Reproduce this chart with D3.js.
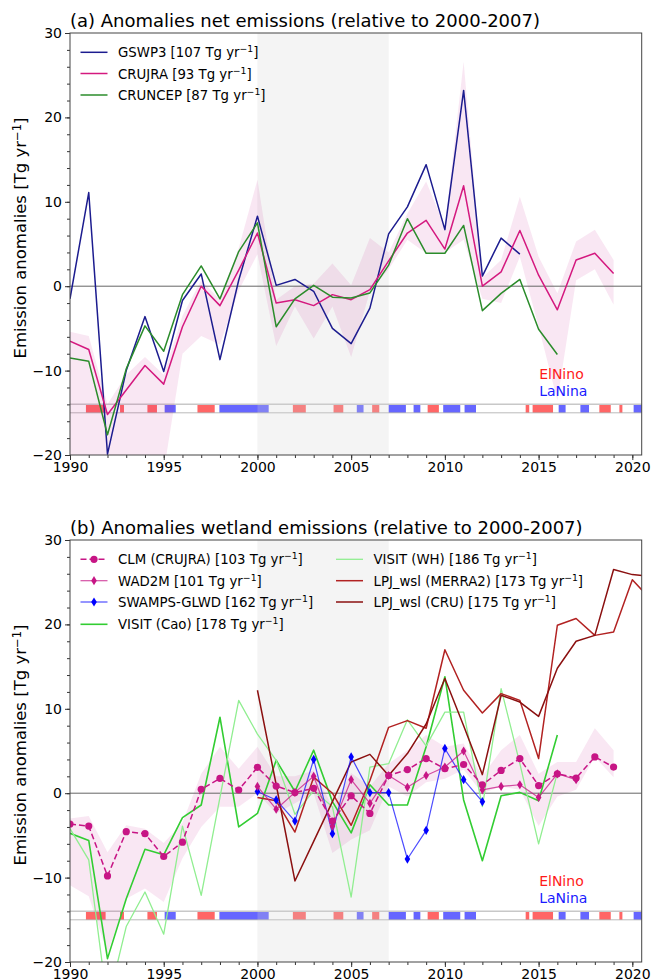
<!DOCTYPE html>
<html>
<head>
<meta charset="utf-8">
<script src="https://cdn.jsdelivr.net/npm/d3@7"></script>
<style>
  body { margin: 0; background: #fff; }
  text { font-family: "DejaVu Sans", sans-serif; fill: #000; }
</style>
</head>
<body>
<svg id="fig" width="652" height="980"></svg>
<script>
// ---- panel (a): net emission anomalies [Tg/yr], first year 1990 ----
const gswp3 = [-1.5, 11.1, -19.9, -10.0, -3.6, -10.1, -1.7, 1.45, -8.7, 0.7, 8.3, 0.1, 0.8, -0.6, -5.0, -6.8, -2.6, 6.2, 9.4, 14.4, 6.7, 23.2, 1.2, 5.7, 3.8];
const crujra = [-6.5, -7.5, -15.2, -12.3, -9.4, -11.6, -4.8, 0.0, -2.3, 1.9, 6.3, -2.0, -1.6, -2.3, -1.0, -1.6, -0.4, 3.0, 6.3, 7.8, 4.4, 11.9, 0.0, 1.7, 6.6, 1.3, -2.8, 3.1, 3.9, 1.5];
const cruncep = [-8.5, -8.9, -17.6, -9.8, -4.7, -7.7, -1.0, 2.4, -1.5, 4.1, 7.5, -4.8, -1.5, 0.1, -1.3, -1.4, -0.8, 2.5, 8.0, 3.9, 3.9, 7.2, -2.9, -0.85, 0.8, -5.1, -8.1];
// spread band, 1990-2019
const netHi = [-5.4, -5.9, -14.0, -10.5, -8.4, -10.5, -3.5, 0.7, -1.6, 4.5, 12.6, -1.6, 0.0, 0.3, 2.7, 0.1, 5.7, 4.0, 8.6, 12.4, 7.0, 26.6, 1.0, 3.1, 10.6, 3.5, -0.85, 5.3, 6.7, 3.1];
const netLo = [-24, -24, -24, -24, -24, -22, -8.0, -5.9, -6.9, -0.5, 3.8, -7.1, -2.4, -6.2, -2.4, -8.4, -0.6, 2.0, 5.5, 3.9, 4.0, 5.5, -1.5, -2.0, 3.5, -4.8, -13.5, 0.7, 2.0, -2.2];

// ---- panel (b): wetland emission anomalies [Tg/yr] ----
const clm = [-3.65, -3.9, -9.8, -4.56, -4.8, -7.5, -5.8, 0.46, 1.76, 0.38, 3.07, 0.85, 0.07, 0.58, -3.3, -0.3, -2.4, 2.1, 2.8, 4.1, 2.9, 3.4, 1.0, 2.7, 4.1, 0.9, 2.3, 1.8, 4.3, 3.1]; // 1990-2019
const wad2m = [0.8, -1.9, 0.1, 2.0, -3.9, 1.6, -1.2, 2.1, 0.7, 2.1, 3.1, 5.0, 0.4, 0.8, 1.0, -0.5, 2.3, 1.6]; // 2000-2017
const swamps = [0.2, -0.8, -3.3, 4.0, -4.8, 4.3, 0.07, 0.07, -7.8, -4.4, 5.3, 1.6, -1.0]; // 2000-2012
const visitCao = [-4.75, -5.6, -19.6, -12.5, -6.65, -7.3, -2.9, -1.4, 9.0, -4.0, -2.4, 3.9, 0.2, 5.1, -1.0, -4.7, 1.0, -1.4, -1.4, 5.5, 13.8, -0.8, -8.0, -0.3, 0.1, -0.9, 6.9]; // 1990-2016
const visitWH = [-4.2, -7.9, -25, -15.8, -11.7, -16.7, -3.9, -12.1, -0.5, 11.0, 7.0, 3.9, -2.5, 0.3, -1.6, -12.3, 3.1, 3.5, 8.7, 5.6, 9.6, 9.6, -1.6, 12.4, 3.5, -6.0, 2.4]; // 1990-2016
const lpjMerra = [-0.5, -0.9, -4.6, 1.9, 0.0, -3.8, 1.5, 7.8, 8.6, 7.7, 17.0, 12.2, 9.5, 11.8, 11.0, 4.1, 19.9, 20.7, 18.7, 19.1, 25.3, 22.9]; // 2000-2021
const lpjCru = [12.2, 1.0, -10.4, -5.7, -1.0, 3.7, 4.6, 2.1, 4.7, 8.2, 13.6, 8.0, 2.2, 11.6, 10.8, 9.1, 14.8, 18.0, 18.7, 26.5, 25.9, 25.7]; // 2000-2021
const wetHi = [-3.0, -2.7, -7.0, -3.8, -4.2, -5.9, -3.5, 2.3, 5.5, 2.9, 5.5, 2.0, 2.0, 2.7, -1.6, 2.4, 0.8, 3.5, 5.1, 6.9, 5.5, 5.9, 2.0, 5.1, 6.9, 2.3, 3.7, 3.7, 7.7, 5.1];
const wetLo = [-10.9, -12.2, -19.0, -12.5, -11.3, -12.9, -7.7, -4.0, -1.6, -1.6, 0.0, -2.4, -1.2, 0.0, -7.1, -5.5, -4.4, 0.8, -0.4, 1.3, 1.7, 2.8, 0.0, 0.8, 0.4, -3.9, -0.4, 0.4, 4.3, 1.9];

// ENSO phases (fractional years)
const elNino = [[1990.85, 1991.9], [1992.67, 1992.88], [1994.13, 1994.64], [1996.8, 1997.72], [2001.89, 2002.58], [2004.06, 2004.58], [2006.12, 2006.5], [2009.08, 2009.68], [2014.31, 2014.5], [2014.68, 2015.77], [2018.24, 2018.85], [2019.31, 2019.47]];
const laNina = [[1995.05, 1995.64], [1997.97, 2000.6], [2005.3, 2005.66], [2007.0, 2007.92], [2008.33, 2008.69], [2009.91, 2010.82], [2011.05, 2011.66], [2016.07, 2016.44], [2017.23, 2017.69], [2020.07, 2020.6]];

const xTicks = [1990, 1995, 2000, 2005, 2010, 2015, 2020];
const yTicks = [-20, -10, 0, 10, 20, 30];

const svg = d3.select('#fig');
const left = 70, right = 641.7, ph = 422;
const x = d3.scaleLinear().domain([1990, 2020.5]).range([left, right]);

// "name [val Tg yr^-1]" with a real superscript
function unitLabel(t, name, val) {
  t.append('tspan').text(val == null ? name : `${name} [${val} Tg yr`);
  if (val == null) return;
  t.append('tspan').attr('dy', -5).attr('font-size', '0.7em').text('−1');
  t.append('tspan').attr('dy', 5).text(']');
}

const diamond = (w, h) => `M0,${-h}L${w},0L0,${h}L${-w},0Z`;

function drawPanel(top, id, title, series, hi, lo, legend) {
  const y = d3.scaleLinear().domain([-20, 30]).range([top + ph, top]);
  const g = svg.append('g');
  svg.append('clipPath').attr('id', 'clip' + id)
    .append('rect').attr('x', left).attr('y', top).attr('width', right - left).attr('height', ph);
  const plot = g.append('g').attr('clip-path', `url(#clip${id})`);

  // enso strips
  plot.selectAll('.nino').data(elNino).join('rect')
    .attr('x', d => x(d[0])).attr('width', d => x(d[1]) - x(d[0]))
    .attr('y', y(-14)).attr('height', y(-15) - y(-14))
    .attr('fill', '#ff0000').attr('opacity', 0.6);
  plot.selectAll('.nina').data(laNina).join('rect')
    .attr('x', d => x(d[0])).attr('width', d => x(d[1]) - x(d[0]))
    .attr('y', y(-14)).attr('height', y(-15) - y(-14))
    .attr('fill', '#0000ff').attr('opacity', 0.6);
  plot.append('line').attr('x1', left).attr('x2', right).attr('y1', y(-14)).attr('y2', y(-14))
    .attr('stroke', '#c8c8c8').attr('stroke-width', 1.5);
  plot.append('line').attr('x1', left).attr('x2', right).attr('y1', y(-15)).attr('y2', y(-15))
    .attr('stroke', '#aaa').attr('stroke-width', 0.8);

  // reference period 2000-2007
  plot.append('rect').attr('x', x(2000)).attr('width', x(2007) - x(2000))
    .attr('y', top).attr('height', ph).attr('fill', '#d3d3d3').attr('opacity', 0.25);

  // spread band
  const area = d3.area().x((d, i) => x(1990 + i)).y0((d, i) => y(lo[i])).y1(d => y(d));
  plot.append('path').datum(hi).attr('d', area).attr('fill', '#c71585').attr('opacity', 0.1);

  plot.append('line').attr('x1', left).attr('x2', right).attr('y1', y(0)).attr('y2', y(0))
    .attr('stroke', '#666').attr('stroke-width', 1);

  series.forEach(s => {
    const line = d3.line().x((d, i) => x(s.start + i)).y(d => y(d));
    plot.append('path').datum(s.values).attr('d', line).attr('fill', 'none')
      .attr('stroke', s.color).attr('stroke-width', s.width || 1.5)
      .attr('stroke-opacity', s.alpha || 1)
      .attr('stroke-dasharray', s.dash || null).attr('stroke-linejoin', 'round');
    if (s.marker === 'o') {
      plot.selectAll(null).data(s.values).join('circle')
        .attr('cx', (d, i) => x(s.start + i)).attr('cy', d => y(d)).attr('r', 3.6)
        .attr('fill', s.color);
    } else if (s.marker === 'd') {
      plot.selectAll(null).data(s.values).join('path')
        .attr('transform', (d, i) => `translate(${x(s.start + i)},${y(d)})`)
        .attr('d', diamond(2.8, 4.6)).attr('fill', s.mcolor || s.color);
    }
  });

  // axes
  g.append('g').attr('transform', `translate(0,${top + ph})`)
    .call(d3.axisBottom(x).tickValues(xTicks).tickFormat(d3.format('d')).tickSize(5).tickPadding(2));
  g.append('g').attr('transform', `translate(0,${top + ph})`)
    .call(d3.axisBottom(x).tickValues(d3.range(1990, 2021)).tickFormat('').tickSize(3));
  g.append('g').attr('transform', `translate(${left},0)`)
    .call(d3.axisLeft(y).tickValues(yTicks).tickFormat(d => d < 0 ? '−' + (-d) : d).tickSize(5).tickPadding(3));
  g.append('g').attr('transform', `translate(${left},0)`)
    .call(d3.axisLeft(y).tickValues(d3.range(-20, 31, 2)).tickFormat('').tickSize(3));
  g.selectAll('.domain').remove();
  g.selectAll('.tick line').attr('stroke', '#333');
  g.selectAll('.tick text').attr('font-size', 14).attr('font-family', '"DejaVu Sans", sans-serif').attr('fill', '#000');

  g.append('rect').attr('x', left).attr('y', top).attr('width', right - left).attr('height', ph)
    .attr('fill', 'none').attr('stroke', '#444').attr('stroke-width', 1);

  g.append('text').attr('x', left).attr('y', top - 6).attr('font-size', 18).text(title);
  const yl = g.append('text').attr('transform', `translate(26,${top + ph / 2 - 6}) rotate(-90)`)
    .attr('text-anchor', 'middle').attr('font-size', 16.5);
  unitLabel(yl, 'Emission anomalies', '');
  yl.selectAll('tspan').filter((d, i) => i === 0).text('Emission anomalies [Tg yr');

  g.append('text').attr('x', x(2015.03)).attr('y', y(-11)).attr('font-size', 14)
    .style('fill', '#ff1a1a').text('ElNino');
  g.append('text').attr('x', x(2015.03)).attr('y', y(-13)).attr('font-size', 14)
    .style('fill', '#1a1aff').text('LaNina');

  // legend
  legend.forEach(l => {
    const ly = top + l.row;
    g.append('line').attr('x1', l.x).attr('x2', l.x + 27).attr('y1', ly).attr('y2', ly)
      .attr('stroke', l.s.color).attr('stroke-width', l.s.width || 1.5)
      .attr('stroke-opacity', l.s.alpha || 1).attr('stroke-dasharray', l.s.dash || null);
    if (l.s.marker === 'o') g.append('circle').attr('cx', l.x + 13.5).attr('cy', ly).attr('r', 3.6).attr('fill', l.s.color);
    if (l.s.marker === 'd') g.append('path').attr('transform', `translate(${l.x + 13.5},${ly})`)
      .attr('d', diamond(2.8, 4.6)).attr('fill', l.s.mcolor || l.s.color);
    const t = g.append('text').attr('x', l.x + 37.5).attr('y', ly + 5).attr('font-size', 13.3);
    unitLabel(t, l.s.name, l.s.total);
  });
}

const sGswp3 = { name: 'GSWP3', total: 107, start: 1990, values: gswp3, color: '#1c1c8f' };
const sCrujra = { name: 'CRUJRA', total: 93, start: 1990, values: crujra, color: '#d4197f' };
const sCruncep = { name: 'CRUNCEP', total: 87, start: 1990, values: cruncep, color: '#2b8c2b' };
drawPanel(33, 'a', '(a) Anomalies net emissions (relative to 2000-2007)',
  [sGswp3, sCrujra, sCruncep], netHi, netLo,
  [{ s: sGswp3, x: 80.5, row: 19.3 }, { s: sCrujra, x: 80.5, row: 40.5 }, { s: sCruncep, x: 80.5, row: 62 }]);

const sClm = { name: 'CLM (CRUJRA)', total: 103, start: 1990, values: clm, color: '#c71585', dash: '6,3', marker: 'o' };
const sWad = { name: 'WAD2M', total: 101, start: 2000, values: wad2m, color: '#c71585', alpha: 0.75, width: 1.2, marker: 'd' };
const sSw = { name: 'SWAMPS-GLWD', total: 162, start: 2000, values: swamps, color: '#0000ff', alpha: 0.7, width: 1.2, marker: 'd', mcolor: '#0000ff' };
const sCao = { name: 'VISIT (Cao)', total: 178, start: 1990, values: visitCao, color: '#32cd32', width: 1.6 };
const sWh = { name: 'VISIT (WH)', total: 186, start: 1990, values: visitWH, color: '#90ee90', width: 1.3 };
const sMerra = { name: 'LPJ_wsl (MERRA2)', total: 173, start: 2000, values: lpjMerra, color: '#b22222', width: 1.5 };
const sCru = { name: 'LPJ_wsl (CRU)', total: 175, start: 2000, values: lpjCru, color: '#8b1010', width: 1.5 };
drawPanel(540, 'b', '(b) Anomalies wetland emissions (relative to 2000-2007)',
  [sCao, sWh, sMerra, sCru, sSw, sWad, sClm], wetHi, wetLo,
  [{ s: sClm, x: 80.5, row: 19.3 }, { s: sWad, x: 80.5, row: 40.7 }, { s: sSw, x: 80.5, row: 62 },
   { s: sCao, x: 80.5, row: 84.3 }, { s: sWh, x: 336, row: 19.3 }, { s: sMerra, x: 336, row: 40.7 },
   { s: sCru, x: 336, row: 62 }]);
</script>
</body>
</html>
